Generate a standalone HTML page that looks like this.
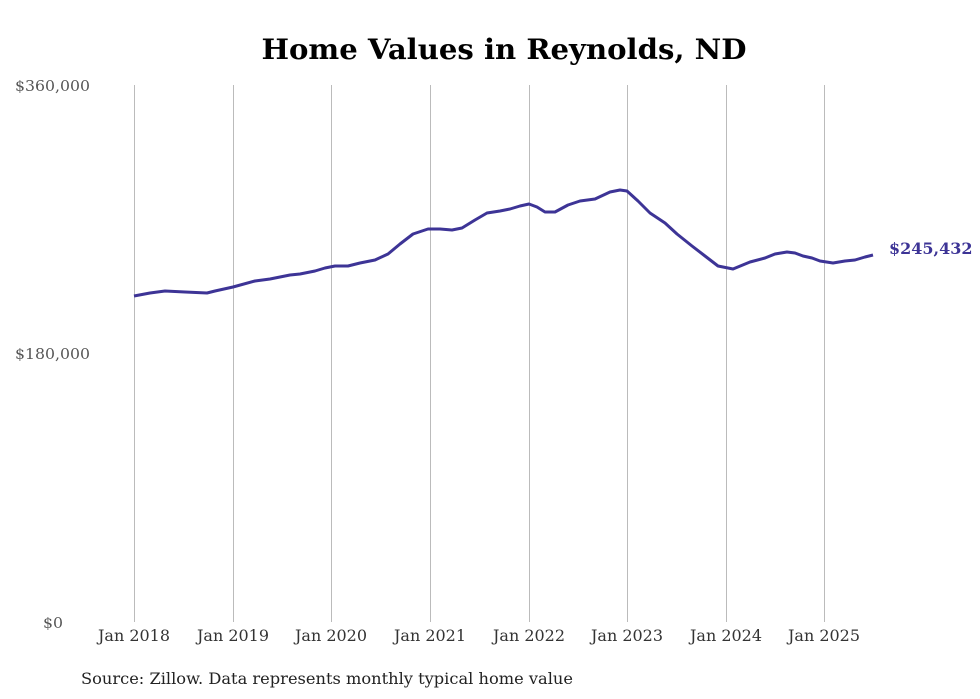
<!DOCTYPE html>
<html><head><style>body{margin:0;background:#fff}svg{display:block}</style></head><body>
<svg width="980" height="699" xmlns="http://www.w3.org/2000/svg" font-family="'DejaVu Serif','Liberation Serif',serif">
<rect width="980" height="699" fill="#fff"/>
<text x="504" y="59" text-anchor="middle" font-size="28" font-weight="bold" textLength="485" lengthAdjust="spacingAndGlyphs">Home Values in Reynolds, ND</text>
<g stroke="#bbb" stroke-width="1">
<line x1="134.5" y1="85" x2="134.5" y2="622"/><line x1="233.5" y1="85" x2="233.5" y2="622"/><line x1="331.5" y1="85" x2="331.5" y2="622"/><line x1="430.5" y1="85" x2="430.5" y2="622"/><line x1="529.5" y1="85" x2="529.5" y2="622"/><line x1="627.5" y1="85" x2="627.5" y2="622"/><line x1="726.5" y1="85" x2="726.5" y2="622"/><line x1="824.5" y1="85" x2="824.5" y2="622"/>
</g>
<g font-size="15" fill="#555">
<text x="15" y="91" textLength="75" lengthAdjust="spacingAndGlyphs">$360,000</text>
<text x="15" y="359" textLength="75" lengthAdjust="spacingAndGlyphs">$180,000</text>
<text x="43" y="628" textLength="20" lengthAdjust="spacingAndGlyphs">$0</text>
</g>
<g font-size="16" fill="#333" text-anchor="middle">
<text x="134" y="641" textLength="72" lengthAdjust="spacingAndGlyphs">Jan 2018</text><text x="233" y="641" textLength="72" lengthAdjust="spacingAndGlyphs">Jan 2019</text><text x="331" y="641" textLength="72" lengthAdjust="spacingAndGlyphs">Jan 2020</text><text x="430" y="641" textLength="72" lengthAdjust="spacingAndGlyphs">Jan 2021</text><text x="529" y="641" textLength="72" lengthAdjust="spacingAndGlyphs">Jan 2022</text><text x="627" y="641" textLength="72" lengthAdjust="spacingAndGlyphs">Jan 2023</text><text x="726" y="641" textLength="72" lengthAdjust="spacingAndGlyphs">Jan 2024</text><text x="824" y="641" textLength="72" lengthAdjust="spacingAndGlyphs">Jan 2025</text>
</g>
<text x="81" y="684" font-size="16" fill="#222" textLength="492" lengthAdjust="spacingAndGlyphs">Source: Zillow. Data represents monthly typical home value</text>
<polyline fill="none" stroke="#3d3496" stroke-width="3" stroke-linejoin="round" points="134,296 150,293 165,291 185,292 207,293 215,291 233,287 255,281 270,279 290,275 300,274 315,271 325,268 335,266 348,266 360,263 375,260 388,254 400,244 413,234 428,229 440,229 452,230 462,228 475,220 487,213 500,211 510,209 520,206 529,204 537,207 545,212 555,212 568,205 580,201 595,199 610,192 620,190 627,191 638,201 650,213 665,223 677,234 692,246 705,256 718,266 733,269 750,262 765,258 775,254 787,252 795,253 803,256 812,258 820,261 833,263 845,261 855,260 865,257 873,255"/>
<text x="889" y="254" font-size="16" font-weight="bold" fill="#3d3496">$245,432</text>
</svg>
</body></html>
